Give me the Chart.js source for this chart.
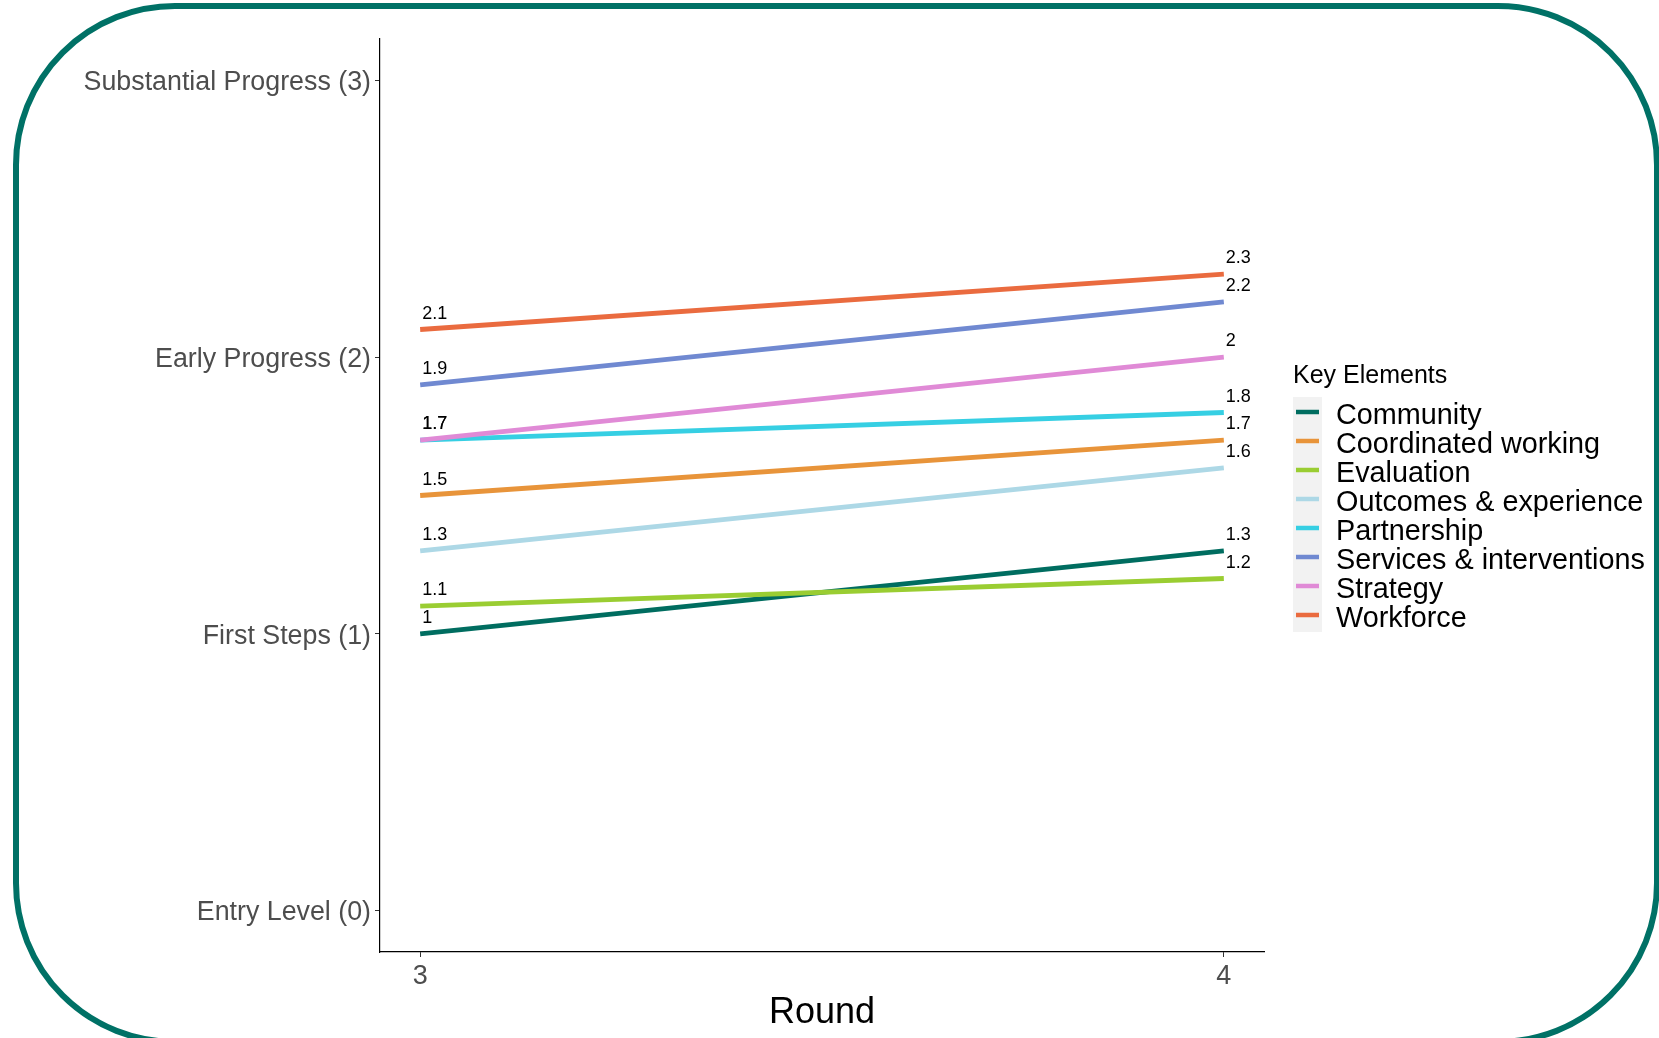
<!DOCTYPE html>
<html>
<head>
<meta charset="utf-8">
<script src="https://cdn.jsdelivr.net/npm/chart.js@4.4.1/dist/chart.umd.min.js"></script>
<style>
  html, body { margin: 0; padding: 0; background: #fff; overflow: hidden; }
  #wrap { position: relative; width: 1659px; height: 1038px; overflow: hidden; }
  #frame {
    position: absolute; left: 13px; top: 3px; width: 1635px; height: 1030px;
    border: 6px solid #007166; border-radius: 162px; pointer-events: none;
  }
  canvas { position: absolute; left: 0; top: 0; }
</style>
</head>
<body>
<div id="wrap">
  <canvas id="chart" width="1659" height="1038"></canvas>
  <div id="frame"></div>
</div>
<script>
// rounds on the x axis
const rounds = [3, 4];

// key elements, in legend order
const elements = [
  'Community', 'Coordinated working', 'Evaluation', 'Outcomes & experience',
  'Partnership', 'Services & interventions', 'Strategy', 'Workforce'
];

// scores per round (round 3, round 4)
const community = [1.0, 1.3];
const coordinated = [1.5, 1.7];
const evaluation = [1.1, 1.2];
const outcomes = [1.3, 1.6];
const partnership = [1.7, 1.8];
const services = [1.9, 2.2];
const strategy = [1.7, 2.0];
const workforce = [2.1, 2.3];

const yTickLabels = ['Entry Level (0)', 'First Steps (1)', 'Early Progress (2)', 'Substantial Progress (3)'];

const COLORS = ['#006d60', '#e8943a', '#9acd32', '#add8e6', '#36cfe3', '#7089d1', '#e08ad6', '#ea6b3f'];
const FONT = '"Liberation Sans", Arial, sans-serif';

const series = [community, coordinated, evaluation, outcomes, partnership, services, strategy, workforce];

const datasets = series.map((vals, i) => ({
  label: elements[i],
  data: vals.map((v, j) => ({ x: rounds[j], y: v })),
  borderColor: COLORS[i],
  backgroundColor: COLORS[i],
  borderWidth: 4.8,
  pointRadius: 0,
  tension: 0,
  order: series.length - i
}));

// value labels just above each point
const valueLabels = {
  id: 'valueLabels',
  afterDatasetsDraw(chart) {
    const ctx = chart.ctx;
    ctx.save();
    ctx.font = '18px ' + FONT;
    ctx.fillStyle = '#000';
    ctx.textAlign = 'left';
    ctx.textBaseline = 'alphabetic';
    chart.data.datasets.forEach((ds, i) => {
      chart.getDatasetMeta(i).data.forEach((pt, j) => {
        ctx.fillText(String(ds.data[j].y), pt.x + 2, pt.y - 11);
      });
    });
    ctx.restore();
  }
};

// ggplot-style legend on the right
const keyLegend = {
  id: 'keyLegend',
  afterDraw(chart) {
    const ctx = chart.ctx;
    const x0 = 1293, top = 397, step = 29;
    ctx.save();
    ctx.fillStyle = '#000';
    ctx.font = '25px ' + FONT;
    ctx.textAlign = 'left';
    ctx.textBaseline = 'alphabetic';
    ctx.fillText('Key Elements', x0, 383);

    const n = chart.data.datasets.length;
    ctx.fillStyle = '#f2f2f2';
    ctx.fillRect(x0, top, 29, step * n + 3);

    ctx.font = '28.8px ' + FONT;
    chart.data.datasets.forEach((ds, i) => {
      const cy = 412 + i * step;
      ctx.strokeStyle = ds.borderColor;
      ctx.lineWidth = 4.5;
      ctx.beginPath();
      ctx.moveTo(x0 + 3, cy);
      ctx.lineTo(x0 + 26, cy);
      ctx.stroke();
      ctx.fillStyle = '#000';
      ctx.fillText(ds.label, 1336, cy + 12);
    });
    ctx.restore();
  }
};

new Chart(document.getElementById('chart'), {
  type: 'line',
  data: { datasets },
  options: {
    responsive: false,
    animation: false,
    devicePixelRatio: 1,
    layout: { padding: { left: 0, top: 39, right: 395, bottom: 0 } },
    plugins: {
      legend: { display: false },
      tooltip: { enabled: false }
    },
    scales: {
      x: {
        type: 'linear',
        min: 2.95,
        max: 4.05,
        afterBuildTicks: s => { s.ticks = rounds.map(v => ({ value: v })); },
        afterFit: s => { s.height = 86; },
        ticks: {
          color: '#4d4d4d',
          font: { family: FONT, size: 27 },
          padding: 3,
          maxRotation: 0,
          callback: v => String(v)
        },
        grid: { drawOnChartArea: false, drawTicks: true, tickLength: 5, color: '#333', lineWidth: 1 },
        border: { display: true, color: '#000', width: 1.2 },
        title: {
          display: true,
          text: 'Round',
          color: '#000',
          font: { family: FONT, size: 36 },
          padding: { top: 0, bottom: 3 }
        }
      },
      y: {
        type: 'linear',
        min: -0.15,
        max: 3.15,
        afterBuildTicks: s => { s.ticks = yTickLabels.map((_, i) => ({ value: i })); },
        afterFit: s => { s.width = 380; },
        ticks: {
          color: '#4d4d4d',
          font: { family: FONT, size: 26.8 },
          padding: 4,
          labelOffset: 2.5,
          callback: v => yTickLabels[v]
        },
        grid: { drawOnChartArea: false, drawTicks: true, tickLength: 5, color: '#333', lineWidth: 1 },
        border: { display: true, color: '#000', width: 1.2 }
      }
    }
  },
  plugins: [valueLabels, keyLegend]
});
</script>
</body>
</html>
